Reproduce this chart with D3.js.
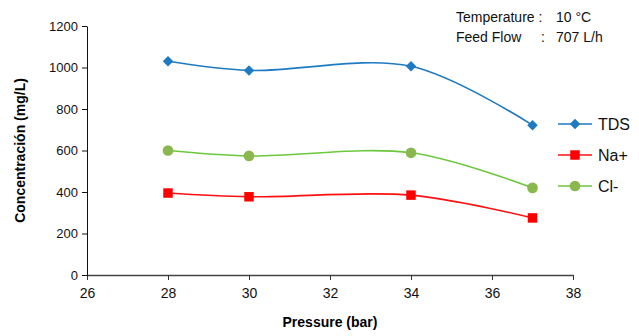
<!DOCTYPE html>
<html>
<head>
<meta charset="utf-8">
<script src="https://cdn.jsdelivr.net/npm/d3@7"></script>
<style>
  body { margin: 0; background: #fff; }
  text { font-family: "Liberation Sans", Arial, sans-serif; }
</style>
</head>
<body>
<div id="chart"></div>
<script>
// data
const pressure = [28, 30, 34, 37];
const tds = [1030, 986, 1006, 722];
const sodium = [395, 377, 385, 275];
const chloride = [600, 574, 589, 420];
const xTicks = [26, 28, 30, 32, 34, 36, 38];
const yTicks = [0, 200, 400, 600, 800, 1000, 1200];

const width = 639, height = 336;
const margins = {top: 26, right: 66, bottom: 61, left: 87};

const svg = d3.select("#chart").append("svg")
  .attr("width", width)
  .attr("height", height);

const x = d3.scaleLinear().domain([26, 38]).range([margins.left, width - margins.right]);
const y = d3.scaleLinear().domain([0, 1200]).range([height - margins.bottom, margins.top]);

// X axis
const xAxis = svg.append("g")
  .attr("transform", `translate(0,${y(0)})`)
  .call(d3.axisBottom(x).tickValues(xTicks).tickSize(5).tickSizeOuter(0));
xAxis.select(".domain").attr("stroke", "#444").attr("stroke-width", 1.3);
xAxis.selectAll(".tick line").attr("stroke", "#333");
xAxis.selectAll("text").attr("font-size", 14).attr("dy", "1.05em").attr("fill", "#111");

// Y axis
const yAxis = svg.append("g")
  .attr("transform", `translate(${x(26)},0)`)
  .call(d3.axisLeft(y).tickValues(yTicks).tickFormat(d3.format("d")).tickSize(5).tickSizeOuter(0));
yAxis.select(".domain").attr("stroke", "#111");
yAxis.selectAll(".tick line").attr("stroke", "#111");
yAxis.selectAll("text").attr("font-size", 13).attr("x", -9).attr("fill", "#111");

// axis titles
svg.append("text")
  .attr("x", (x(26) + x(38)) / 2).attr("y", 327)
  .attr("text-anchor", "middle")
  .style("font-family", "'Liberation Sans Narrow', 'Liberation Sans', Arial, sans-serif")
  .attr("font-weight", "bold").attr("font-size", 14)
  .text("Pressure (bar)");

svg.append("text")
  .attr("transform", `translate(25,${(y(0) + y(1200)) / 2}) rotate(-90)`)
  .attr("text-anchor", "middle")
  .style("font-family", "'Liberation Sans Narrow', 'Liberation Sans', Arial, sans-serif")
  .attr("font-weight", "bold").attr("font-size", 14)
  .text("Concentración (mg/L)");

const series = [
  {name: "TDS", values: tds, line: "#1f7bc1", fill: "#1f7bc1", symbol: d3.symbolSquare, size: 55, rot: 45},
  {name: "Na+", values: sodium, line: "#ff1010", fill: "#ff0000", symbol: d3.symbolSquare, size: 90, rot: 0},
  {name: "Cl-", values: chloride, line: "#6cc83c", fill: "#8bb84e", symbol: d3.symbolCircle, size: 90, rot: 0}
];

const line = d3.line()
  .x(d => x(d[0]))
  .y(d => y(d[1]))
  .curve(d3.curveCatmullRom.alpha(0.5));

series.forEach(s => {
  const pts = pressure.map((p, i) => [p, s.values[i]]);
  svg.append("path")
    .datum(pts)
    .attr("fill", "none")
    .attr("stroke", s.line)
    .attr("stroke-width", 1.6)
    .attr("d", line);
  svg.selectAll(null)
    .data(pts)
    .enter().append("path")
      .attr("transform", d => `translate(${x(d[0])},${y(d[1])}) rotate(${s.rot})`)
      .attr("d", d3.symbol().type(s.symbol).size(s.size))
      .attr("fill", s.fill);
});

// legend
const legend = svg.append("g").attr("transform", "translate(558,124)");
series.forEach((s, i) => {
  const g = legend.append("g").attr("transform", `translate(0,${i * 31})`);
  g.append("line").attr("x1", 0).attr("x2", 34).attr("stroke", s.line).attr("stroke-width", 1.6);
  g.append("path").attr("transform", `translate(17,0) rotate(${s.rot})`)
    .attr("d", d3.symbol().type(s.symbol).size(s.size)).attr("fill", s.fill);
  g.append("text").attr("x", 40).attr("dy", "0.36em")
    .attr("font-size", 16).attr("fill", "#111")
    .text(s.name);
});

// conditions note
const note = svg.append("g").attr("font-size", 14).attr("fill", "#111");
note.append("text").attr("x", 456).attr("y", 22).text("Temperature :");
note.append("text").attr("x", 556).attr("y", 22).text("10 °C");
note.append("text").attr("x", 456).attr("y", 42).text("Feed Flow");
note.append("text").attr("x", 541).attr("y", 42).text(":");
note.append("text").attr("x", 556).attr("y", 42).text("707 L/h");
</script>
</body>
</html>
